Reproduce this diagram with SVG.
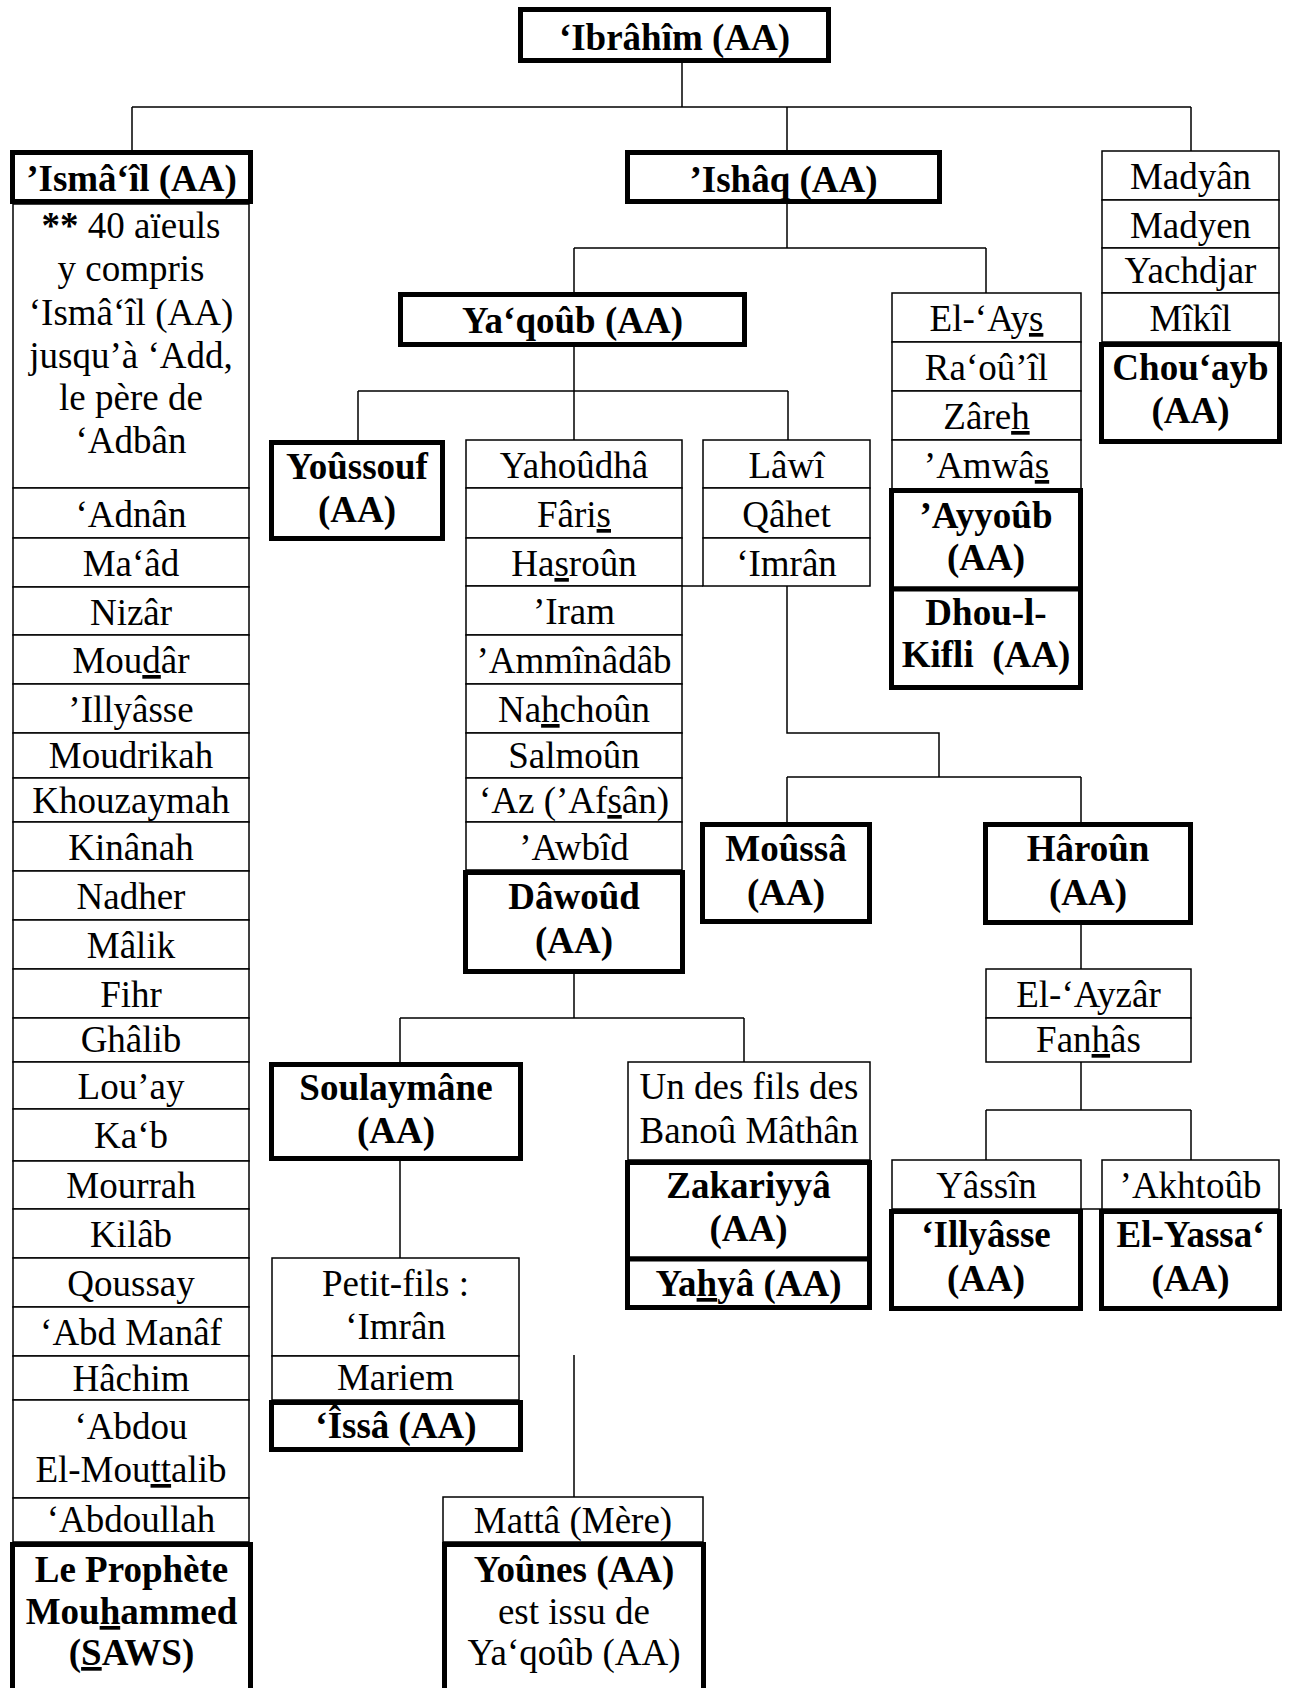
<svg xmlns="http://www.w3.org/2000/svg" width="1289" height="1688" viewBox="0 0 1289 1688">
<style>
text{font-family:"Liberation Serif","Times New Roman",serif;font-size:37px;text-anchor:middle;fill:#000}
.b{font-weight:bold}
.u{text-decoration:underline}
.thin{fill:#fff;stroke:#000;stroke-width:1.5}
.thick{fill:#fff;stroke:#000;stroke-width:5}
.c{fill:none;stroke:#000;stroke-width:1.5}
</style>
<rect width="1289" height="1688" fill="#fff"/>
<g id="connectors" class="c">
<path d="M682 63V107M132 107H1191M132 107V150M787 107V150M1191 107V151"/>
<path d="M787 204V248M574 248H986M574 248V292M986 248V293"/>
<path d="M574 347V440M358 391H788M358 391V440M788 391V440"/>
<path d="M682 586H703M787 586V733H939V777M787 777H1081M787 777V822M1081 777V822"/>
<path d="M1081 925V969M1081 1062V1110M986 1110H1191M986 1110V1160M1191 1110V1160M1081 1209H1102"/>
<path d="M574 974V1018M400 1018H744M400 1018V1062M744 1018V1062M400 1161V1258M574 1355V1497"/>
</g>
<g id="ibrahim">
<rect class="thick" x="520.5" y="9.5" width="308" height="51"/>
<text class="b" x="674.5" y="50">‘Ibrâhîm (AA)</text>
</g>
<g id="ismail">
<rect class="thin" x="13" y="204" width="236" height="284"/>
<text x="131" y="238"><tspan class="b">**</tspan> 40 aïeuls</text>
<text x="131" y="281">y compris</text>
<text x="131" y="325">‘Ismâ‘îl (AA)</text>
<text x="131" y="368">jusqu’à ‘Add,</text>
<text x="131" y="410">le père de</text>
<text x="131" y="453">‘Adbân</text>
<rect class="thick" x="12.5" y="152.5" width="238" height="49"/>
<text class="b" x="131.5" y="191">’Ismâ‘îl (AA)</text>
</g>
<g id="ismail-line">
<rect class="thin" x="13" y="488" width="236" height="50"/><text x="131" y="527">‘Adnân</text>
<rect class="thin" x="13" y="538" width="236" height="49"/><text x="131" y="576">Ma‘âd</text>
<rect class="thin" x="13" y="587" width="236" height="48"/><text x="131" y="625">Nizâr</text>
<rect class="thin" x="13" y="635" width="236" height="49"/><text x="131" y="673">Mou<tspan class="u">d</tspan>âr</text>
<rect class="thin" x="13" y="684" width="236" height="49"/><text x="131" y="722">’Illyâsse</text>
<rect class="thin" x="13" y="733" width="236" height="45"/><text x="131" y="768">Moudrikah</text>
<rect class="thin" x="13" y="778" width="236" height="44"/><text x="131" y="813">Khouzaymah</text>
<rect class="thin" x="13" y="822" width="236" height="49"/><text x="131" y="860">Kinânah</text>
<rect class="thin" x="13" y="871" width="236" height="49"/><text x="131" y="909">Nadher</text>
<rect class="thin" x="13" y="920" width="236" height="49"/><text x="131" y="958">Mâlik</text>
<rect class="thin" x="13" y="969" width="236" height="49"/><text x="131" y="1007">Fihr</text>
<rect class="thin" x="13" y="1018" width="236" height="44"/><text x="131" y="1052">Ghâlib</text>
<rect class="thin" x="13" y="1062" width="236" height="47"/><text x="131" y="1099">Lou’ay</text>
<rect class="thin" x="13" y="1109" width="236" height="52"/><text x="131" y="1148">Ka‘b</text>
<rect class="thin" x="13" y="1161" width="236" height="48"/><text x="131" y="1198">Mourrah</text>
<rect class="thin" x="13" y="1209" width="236" height="49"/><text x="131" y="1247">Kilâb</text>
<rect class="thin" x="13" y="1258" width="236" height="49"/><text x="131" y="1296">Qoussay</text>
<rect class="thin" x="13" y="1307" width="236" height="49"/><text x="131" y="1345">‘Abd Manâf</text>
<rect class="thin" x="13" y="1356" width="236" height="44"/><text x="131" y="1391">Hâchim</text>
<rect class="thin" x="13" y="1400" width="236" height="98"/><text x="131" y="1439">‘Abdou</text><text x="131" y="1482">El-Mou<tspan class="u">tt</tspan>alib</text>
<rect class="thin" x="13" y="1498" width="236" height="44"/><text x="131" y="1532">‘Abdoullah</text>
</g>
<g id="mouhammed">
<rect class="thick" x="12.5" y="1544.5" width="238" height="170"/>
<text class="b" x="131.5" y="1582">Le Prophète</text>
<text class="b" x="131.5" y="1624">Mou<tspan class="u">h</tspan>ammed</text>
<text class="b" x="131.5" y="1665">(<tspan class="u">S</tspan>AWS)</text>
</g>
<g id="ishaq">
<rect class="thick" x="627.5" y="152.5" width="312" height="49"/>
<text class="b" x="783.5" y="192">’Ishâq (AA)</text>
</g>
<g id="madyan">
<rect class="thin" x="1102" y="151" width="177" height="49"/><text x="1190.5" y="189">Madyân</text>
<rect class="thin" x="1102" y="200" width="177" height="48"/><text x="1190.5" y="238">Madyen</text>
<rect class="thin" x="1102" y="248" width="177" height="45"/><text x="1190.5" y="283">Yachdjar</text>
<rect class="thin" x="1102" y="293" width="177" height="49"/><text x="1190.5" y="331">Mîkîl</text>
</g>
<g id="chouayb">
<rect class="thick" x="1101.5" y="344.5" width="178" height="97"/>
<text class="b" x="1190.5" y="380">Chou‘ayb</text>
<text class="b" x="1190.5" y="423">(AA)</text>
</g>
<g id="yaqoub">
<rect class="thick" x="400.5" y="294.5" width="344" height="50"/>
<text class="b" x="572.5" y="333">Ya‘qoûb (AA)</text>
</g>
<g id="el-ays">
<rect class="thin" x="892" y="293" width="189" height="49"/><text x="986.5" y="331">El-‘Ay<tspan class="u">s</tspan></text>
<rect class="thin" x="892" y="342" width="189" height="49"/><text x="986.5" y="380">Ra‘oû’îl</text>
<rect class="thin" x="892" y="391" width="189" height="49"/><text x="986.5" y="429">Zâre<tspan class="u">h</tspan></text>
<rect class="thin" x="892" y="440" width="189" height="49"/><text x="986.5" y="478">’Amwâ<tspan class="u">s</tspan></text>
</g>
<g id="ayyoub">
<rect class="thick" x="891.5" y="490.5" width="189" height="98.5"/>
<text class="b" x="986" y="528">’Ayyoûb</text>
<text class="b" x="986" y="570">(AA)</text>
</g>
<g id="dhou-l-kifli">
<rect class="thick" x="891.5" y="589" width="189" height="98.5"/>
<text class="b" x="986" y="625">Dhou-l-</text>
<text class="b" x="986" y="667">Kifli &#160;(AA)</text>
</g>
<g id="youssouf">
<rect class="thick" x="271.5" y="442.5" width="171" height="96"/>
<text class="b" x="357" y="479">Yoûssouf</text>
<text class="b" x="357" y="522">(AA)</text>
</g>
<g id="yahoudha">
<rect class="thin" x="466" y="440" width="216" height="48"/><text x="574" y="478">Yahoûdhâ</text>
<rect class="thin" x="466" y="488" width="216" height="50"/><text x="574" y="527">Fâri<tspan class="u">s</tspan></text>
<rect class="thin" x="466" y="538" width="216" height="48"/><text x="574" y="576">Ha<tspan class="u">s</tspan>roûn</text>
<rect class="thin" x="466" y="586" width="216" height="49"/><text x="574" y="624">’Iram</text>
<rect class="thin" x="466" y="635" width="216" height="49"/><text x="574" y="673">’Ammînâdâb</text>
<rect class="thin" x="466" y="684" width="216" height="49"/><text x="574" y="722">Na<tspan class="u">h</tspan>choûn</text>
<rect class="thin" x="466" y="733" width="216" height="45"/><text x="574" y="768">Salmoûn</text>
<rect class="thin" x="466" y="778" width="216" height="44"/><text x="574" y="813">‘Az (’Af<tspan class="u">s</tspan>ân)</text>
<rect class="thin" x="466" y="822" width="216" height="48"/><text x="574" y="860">’Awbîd</text>
</g>
<g id="dawoud">
<rect class="thick" x="465.5" y="872.5" width="217" height="99"/>
<text class="b" x="574" y="909">Dâwoûd</text>
<text class="b" x="574" y="953">(AA)</text>
</g>
<g id="lawi">
<rect class="thin" x="703" y="440" width="167" height="48"/><text x="786.5" y="478">Lâwî</text>
<rect class="thin" x="703" y="488" width="167" height="50"/><text x="786.5" y="527">Qâhet</text>
<rect class="thin" x="703" y="538" width="167" height="48"/><text x="786.5" y="576">‘Imrân</text>
</g>
<g id="moussa">
<rect class="thick" x="702.5" y="824.5" width="167" height="97"/>
<text class="b" x="786" y="861">Moûssâ</text>
<text class="b" x="786" y="905">(AA)</text>
</g>
<g id="haroun">
<rect class="thick" x="985.5" y="824.5" width="205" height="98"/>
<text class="b" x="1088" y="861">Hâroûn</text>
<text class="b" x="1088" y="905">(AA)</text>
</g>
<g id="el-ayzar">
<rect class="thin" x="986" y="969" width="205" height="49"/><text x="1088.5" y="1007">El-‘Ayzâr</text>
<rect class="thin" x="986" y="1018" width="205" height="44"/><text x="1088.5" y="1052">Fan<tspan class="u">h</tspan>âs</text>
</g>
<g id="soulaymane">
<rect class="thick" x="271.5" y="1064.5" width="249" height="94"/>
<text class="b" x="396" y="1100">Soulaymâne</text>
<text class="b" x="396" y="1143">(AA)</text>
</g>
<g id="petit-fils">
<rect class="thin" x="272" y="1258" width="247" height="98"/>
<text x="395.5" y="1296">Petit-fils :</text>
<text x="395.5" y="1339">‘Imrân</text>
<rect class="thin" x="272" y="1356" width="247" height="44"/>
<text x="395.5" y="1390">Mariem</text>
</g>
<g id="issa">
<rect class="thick" x="271.5" y="1402.5" width="249" height="47"/>
<text class="b" x="396" y="1438">‘Îssâ (AA)</text>
</g>
<g id="banou-mathan">
<rect class="thin" x="628" y="1062" width="242" height="98"/>
<text x="749" y="1099">Un des fils des</text>
<text x="749" y="1143">Banoû Mâthân</text>
</g>
<g id="zakariyya">
<rect class="thick" x="627.5" y="1162.5" width="242" height="96.5"/>
<text class="b" x="748.5" y="1198">Zakariyyâ</text>
<text class="b" x="748.5" y="1241">(AA)</text>
</g>
<g id="yahya">
<rect class="thick" x="627.5" y="1259" width="242" height="48.5"/>
<text class="b" x="748.5" y="1296">Ya<tspan class="u">h</tspan>yâ (AA)</text>
</g>
<g id="yassin">
<rect class="thin" x="892" y="1160" width="189" height="49"/>
<text x="986.5" y="1198">Yâssîn</text>
</g>
<g id="illyasse">
<rect class="thick" x="891.5" y="1211.5" width="189" height="97"/>
<text class="b" x="986" y="1247">‘Illyâsse</text>
<text class="b" x="986" y="1291">(AA)</text>
</g>
<g id="akhtoub">
<rect class="thin" x="1102" y="1160" width="177" height="49"/>
<text x="1190.5" y="1198">’Akhtoûb</text>
</g>
<g id="el-yassa">
<rect class="thick" x="1101.5" y="1211.5" width="178" height="97"/>
<text class="b" x="1190.5" y="1247">El-Yassa‘</text>
<text class="b" x="1190.5" y="1291">(AA)</text>
</g>
<g id="matta">
<rect class="thin" x="443" y="1497" width="260" height="45"/>
<text x="573" y="1533">Mattâ (Mère)</text>
</g>
<g id="younes">
<rect class="thick" x="444.5" y="1544.5" width="259" height="170"/>
<text class="b" x="574" y="1582">Yoûnes (AA)</text>
<text x="574" y="1624">est issu de</text>
<text x="574" y="1665">Ya‘qoûb (AA)</text>
</g>
</svg>
